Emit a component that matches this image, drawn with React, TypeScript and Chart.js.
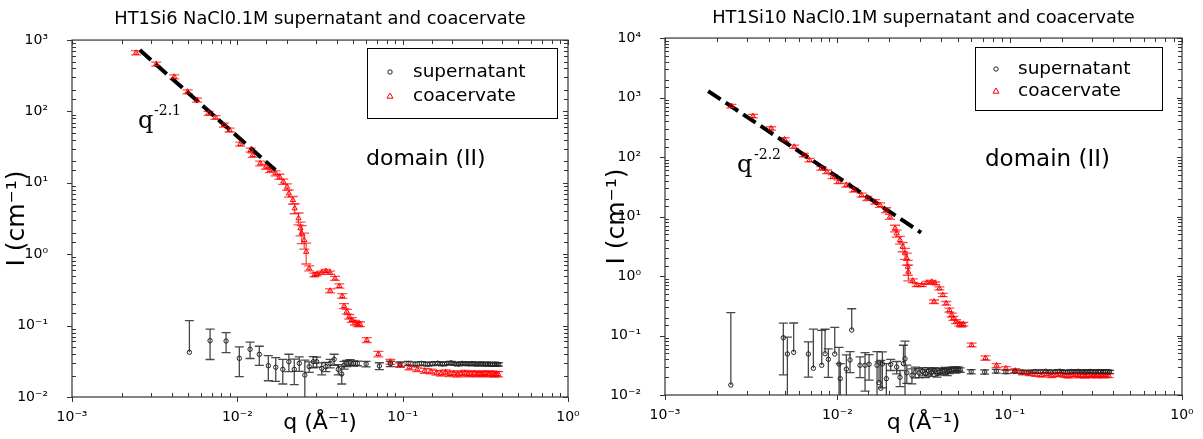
import React, { useEffect, useRef } from 'react';
import { Chart, registerables } from 'chart.js';

Chart.register(...registerables);

// ---------------- Left panel: HT1Si6 ----------------
const titleL = 'HT1Si6 NaCl0.1M supernatant and coacervate';
const supQL = [0.00513, 0.00684, 0.00855, 0.01028, 0.01194, 0.01358, 0.0154, 0.01707, 0.01883, 0.0205, 0.0221, 0.0237, 0.0256, 0.0272, 0.0288, 0.0302, 0.0324, 0.0343, 0.0364, 0.0385, 0.0408, 0.0428, 0.0442, 0.0459, 0.0481, 0.0504, 0.0532, 0.0601, 0.0723,
  0.0843, 0.0964, 0.108, 0.119, 0.130, 0.141, 0.152, 0.163, 0.174, 0.185, 0.196, 0.207, 0.218, 0.229, 0.240, 0.251, 0.262, 0.273, 0.284, 0.295, 0.306, 0.317, 0.328, 0.339, 0.350, 0.361, 0.372, 0.380];
const supIL = [0.0423, 0.0615, 0.0608, 0.0348, 0.0466, 0.0396, 0.0274, 0.0261, 0.0244, 0.0312, 0.0244, 0.0296, 0.0203, 0.0266, 0.0312, 0.0312, 0.0252, 0.0266, 0.0296, 0.0337, 0.0244, 0.0210, 0.0281, 0.0296, 0.0306, 0.0296, 0.0296, 0.0290, 0.0272,
  0.0292, 0.0287, 0.0295, 0.0290, 0.0296, 0.0289, 0.0293, 0.0298, 0.0290, 0.0295, 0.0301, 0.0292, 0.0289, 0.0296, 0.0293, 0.0290, 0.0294, 0.0291, 0.0289, 0.0292, 0.0290, 0.0288, 0.0291, 0.0289, 0.0287, 0.0290, 0.0288, 0.0286];
const supEL = [0.075, 0.028, 0.019, 0.0155, 0.012, 0.0118, 0.0105, 0.0095, 0.0092, 0.0085, 0.0095, 0.0068, 0.0125, 0.0045, 0.0055, 0.005, 0.0048, 0.004, 0.004, 0.006, 0.004, 0.0058, 0.0035, 0.003, 0.0028, 0.0025, 0.0022, 0.0025, 0.003,
  0.0025, 0.0022, 0.002, 0.0018, 0.0018, 0.0017, 0.0017, 0.0016, 0.0016, 0.0016, 0.0015, 0.0015, 0.0015, 0.0015, 0.0015, 0.0015, 0.0015, 0.0015, 0.0015, 0.0015, 0.0015, 0.0015, 0.0015, 0.0015, 0.0015, 0.0015, 0.0015, 0.0015];

const coaQL = [0.00244, 0.00323, 0.00415, 0.00500, 0.00571, 0.00670, 0.00738, 0.00830, 0.00898, 0.01042, 0.01205, 0.01239, 0.01375, 0.01492, 0.01573, 0.01702, 0.01798, 0.01896, 0.01999, 0.0205, 0.02168, 0.02223, 0.02344, 0.0241, 0.02453, 0.0254, 0.0261, 0.0272, 0.0292, 0.0302, 0.0324, 0.0343, 0.0364, 0.0390, 0.0414, 0.0364, 0.0431, 0.0442, 0.0459, 0.0475, 0.0492, 0.0515, 0.0535, 0.0552, 0.0607, 0.0713, 0.0843, 0.0964, 0.110, 0.1225, 0.136,
  0.148, 0.160, 0.171, 0.182, 0.193, 0.204, 0.215, 0.226, 0.237, 0.248, 0.259, 0.270, 0.281, 0.292, 0.303, 0.314, 0.325, 0.336, 0.347, 0.358, 0.369, 0.378];
const coaIL = [664, 461, 306, 189, 144.5, 94, 82.6, 64.5, 55, 34.9, 28.8, 24.5, 18.7, 16.8, 15.1, 13.6, 12.2, 10.4, 8.8, 7.1, 5.74, 4.39, 3.18, 2.31, 1.96, 1.58, 1.08, 0.635, 0.512, 0.528, 0.551, 0.582, 0.551, 0.459, 0.359, 0.308, 0.26, 0.188, 0.157, 0.133, 0.12, 0.110, 0.105, 0.105, 0.0628, 0.040, 0.0312, 0.0281, 0.0261, 0.0244, 0.0233,
  0.0228, 0.0219, 0.0214, 0.0222, 0.0210, 0.0216, 0.0207, 0.0213, 0.0218, 0.0209, 0.0212, 0.0215, 0.0208, 0.0213, 0.0210, 0.0216, 0.0209, 0.0212, 0.0214, 0.0207, 0.0211, 0.0209];
const coaEL = [45, 30, 20, 12, 9, 6, 5, 4, 3.5, 2.3, 1.9, 1.7, 1.4, 1.3, 1.2, 1.1, 1.0, 0.9, 0.9, 0.8, 0.7, 0.7, 0.6, 0.5, 0.55, 0.4, 0.35, 0.05, 0.03, 0.03, 0.03, 0.03, 0.03, 0.03, 0.025, 0.02, 0.02, 0.015, 0.012, 0.01, 0.009, 0.008, 0.008, 0.008, 0.005, 0.0035, 0.0025, 0.002, 0.002, 0.0018, 0.0018,
  0.0017, 0.0017, 0.0017, 0.0017, 0.0017, 0.0017, 0.0017, 0.0017, 0.0017, 0.0017, 0.0017, 0.0017, 0.0017, 0.0017, 0.0017, 0.0017, 0.0017, 0.0017, 0.0017, 0.0017, 0.0017, 0.0017];

const fitQL = [0.00257, 0.0170];
const fitIL = [724, 15.1];
const slopeLabelL = '-2.1';

// ---------------- Right panel: HT1Si10 ----------------
const titleR = 'HT1Si10 NaCl0.1M supernatant and coacervate';
const supQR = [0.00241, 0.00486, 0.00513, 0.00558, 0.00679, 0.00726, 0.00812, 0.00849, 0.00887, 0.00966, 0.01023, 0.0104, 0.01128, 0.01185, 0.01212, 0.01354, 0.01448, 0.01528, 0.0170, 0.01746, 0.01787, 0.01825, 0.01925, 0.0204, 0.0221, 0.0231, 0.0242, 0.0247, 0.0253, 0.0271, 0.0283,
  0.0298, 0.0312, 0.0325, 0.0338, 0.0352, 0.0366, 0.0379, 0.0393, 0.0406, 0.0420, 0.0434, 0.0447, 0.0461, 0.0475, 0.0488, 0.0502, 0.0516,
  0.0598, 0.0716, 0.0836, 0.0951, 0.107, 0.118, 0.129, 0.140, 0.151, 0.162, 0.173, 0.184, 0.195, 0.206, 0.217, 0.228, 0.239, 0.250, 0.261, 0.272, 0.283, 0.294, 0.305, 0.316, 0.327, 0.338, 0.349, 0.360, 0.371, 0.380];
const supIR = [0.0147, 0.0918, 0.0489, 0.0522, 0.0489, 0.0281, 0.0316, 0.0494, 0.0398, 0.0489, 0.0332, 0.0188, 0.0273, 0.0388, 0.1237, 0.0316, 0.0316, 0.0328, 0.0316, 0.0161, 0.0130, 0.0332, 0.0188, 0.0328, 0.0296, 0.0198, 0.0336, 0.0407, 0.0237, 0.0214, 0.0244,
  0.0236, 0.0249, 0.0231, 0.0252, 0.0241, 0.0258, 0.0229, 0.0246, 0.0253, 0.0262, 0.0240, 0.0255, 0.0268, 0.0272, 0.0259, 0.0276, 0.0263,
  0.0247, 0.0244, 0.0252, 0.0246, 0.0249, 0.0245, 0.0243, 0.0248, 0.0246, 0.0250, 0.0244, 0.0247, 0.0251, 0.0245, 0.0244, 0.0248, 0.0246, 0.0250, 0.0245, 0.0247, 0.0246, 0.0249, 0.0246, 0.0244, 0.0248, 0.0246, 0.0247, 0.0245, 0.0246, 0.0244];
const supER = [0.227, 0.07, 0.045, 0.11, 0.029, 0.1, 0.09, 0.078, 0.02, 0.088, 0.03, 0.015, 0.02, 0.015, 0.158, 0.012, 0.02, 0.015, 0.022, 0.02, 0.025, 0.02, 0.015, 0.007, 0.007, 0.006, 0.035, 0.04, 0.008, 0.006, 0.005,
  0.004, 0.004, 0.0035, 0.0035, 0.0035, 0.003, 0.003, 0.003, 0.003, 0.0028, 0.0028, 0.0025, 0.0025, 0.0025, 0.0025, 0.0022, 0.0022,
  0.002, 0.002, 0.0018, 0.0018, 0.0016, 0.0016, 0.0015, 0.0015, 0.0015, 0.0015, 0.0015, 0.0015, 0.0015, 0.0015, 0.0015, 0.0015, 0.0015, 0.0015, 0.0015, 0.0015, 0.0015, 0.0015, 0.0015, 0.0015, 0.0015, 0.0015, 0.0015, 0.0015, 0.0015, 0.0015];

const coaQR = [0.00243, 0.00324, 0.00413, 0.00494, 0.00562, 0.00639, 0.00690, 0.00807, 0.00871, 0.00940, 0.01016, 0.01127, 0.01247, 0.01382, 0.01493, 0.01655, 0.0177, 0.01917, 0.0202, 0.02163, 0.0221, 0.0231, 0.02398, 0.0247, 0.0253, 0.02562, 0.02582, 0.02741, 0.02889, 0.0309, 0.0330, 0.0353, 0.0369, 0.0391, 0.0409, 0.0364, 0.0428, 0.0447, 0.0461, 0.0471, 0.0489, 0.0511, 0.0525, 0.0538, 0.0601, 0.0724, 0.0840, 0.0951, 0.108, 0.1197,
  0.131, 0.142, 0.153, 0.164, 0.175, 0.186, 0.197, 0.208, 0.219, 0.230, 0.241, 0.252, 0.263, 0.274, 0.285, 0.296, 0.307, 0.318, 0.329, 0.340, 0.351, 0.362, 0.375];
const coaIR = [720, 489, 303, 198, 149, 108, 89, 64.6, 56.6, 46.7, 38.5, 33.8, 27.9, 23.0, 20.2, 17.7, 15.6, 12.85, 9.93, 6.34, 5.22, 4.03, 3.11, 2.41, 1.98, 1.43, 1.18, 0.834, 0.706, 0.706, 0.771, 0.802, 0.754, 0.621, 0.480, 0.370, 0.348, 0.268, 0.221, 0.195, 0.171, 0.156, 0.150, 0.155, 0.0692, 0.0419, 0.0313, 0.0281, 0.0256, 0.0237,
  0.0228, 0.0221, 0.0216, 0.0224, 0.0212, 0.0219, 0.0223, 0.0214, 0.0209, 0.0217, 0.0221, 0.0211, 0.0215, 0.0208, 0.0218, 0.0212, 0.0216, 0.0210, 0.0213, 0.0219, 0.0211, 0.0214, 0.0212];
const coaER = [50, 33, 20, 13, 9, 7, 6, 4.5, 4, 3.3, 2.8, 2.5, 2.1, 1.8, 1.6, 1.5, 1.3, 1.2, 1.0, 0.8, 0.7, 0.6, 0.55, 0.5, 0.45, 0.4, 0.35, 0.06, 0.04, 0.04, 0.04, 0.04, 0.04, 0.035, 0.03, 0.025, 0.025, 0.02, 0.017, 0.015, 0.013, 0.012, 0.011, 0.011, 0.005, 0.0035, 0.0025, 0.002, 0.002, 0.0018,
  0.0016, 0.0016, 0.0016, 0.0016, 0.0016, 0.0016, 0.0016, 0.0016, 0.0016, 0.0016, 0.0016, 0.0016, 0.0016, 0.0016, 0.0016, 0.0016, 0.0016, 0.0016, 0.0016, 0.0016, 0.0016, 0.0016, 0.0016];

const fitQR = [0.00178, 0.0306];
const fitIR = [1285, 5.38];
const slopeLabelR = '-2.2';

// ---------------- Axes text ----------------
const xTickValues = [0.001, 0.01, 0.1, 1];
const xTickLabels = ['10⁻³', '10⁻²', '10⁻¹', '10⁰'];
const yTickValues = [0.01, 0.1, 1, 10, 100, 1000, 10000];
const yTickLabels = ['10⁻²', '10⁻¹', '10⁰', '10¹', '10²', '10³', '10⁴'];
const xAxisTitle = 'q (Å⁻¹)';
const yAxisTitle = 'I (cm⁻¹)';
const legendLabels = ['supernatant', 'coacervate'];
const domainLabel = 'domain (II)';

const SANS = 'DejaVu Sans';

function labelFor(values: number[], labels: string[], v: number): string {
  for (let i = 0; i < values.length; i++) {
    if (Math.abs(Math.log10(v) - Math.log10(values[i])) < 1e-6) return labels[i];
  }
  return '';
}

function pts(q: number[], I: number[]) {
  return q.map((x, i) => ({ x, y: I[i] }));
}

type PanelCfg = {
  title: string;
  supQ: number[]; supI: number[]; supE: number[];
  coaQ: number[]; coaI: number[]; coaE: number[];
  fitQ: number[]; fitI: number[];
  slope: string;
  yMax: number;
  yAxisWidth: number;
  padRight: number;
  titlePadTop: number;
  titlePadBottom: number;
  xAxisHeight: number;
  legendBox: [number, number, number, number];
  legendMarkerX: number;
  legendTextX: number;
  legendRowY: [number, number];
  domainX: number; domainY: number; domainSize: number;
  qX: number; qY: number; supX: number; supY: number;
};

const errorBarsPlugin = {
  id: 'errorBars',
  beforeDatasetsDraw(chart: any) {
    const { ctx, chartArea, scales } = chart;
    const xs = scales.x, ys = scales.y;
    ctx.save();
    ctx.beginPath();
    ctx.rect(chartArea.left, chartArea.top, chartArea.right - chartArea.left, chartArea.bottom - chartArea.top);
    ctx.clip();
    chart.data.datasets.forEach((ds: any) => {
      if (!ds.errors) return;
      ctx.strokeStyle = ds.errorColor;
      ctx.lineWidth = ds.errorWidth;
      const cw = ds.capWidth / 2;
      ds.data.forEach((p: any, i: number) => {
        const e = ds.errors[i];
        const x = xs.getPixelForValue(p.x);
        const yc = ys.getPixelForValue(p.y);
        const yt = ys.getPixelForValue(p.y + e);
        const lo = p.y - e;
        const yb = lo > 0 ? ys.getPixelForValue(lo) : yc;
        ctx.beginPath();
        ctx.moveTo(x, yt);
        ctx.lineTo(x, yb);
        ctx.moveTo(x - cw, yt);
        ctx.lineTo(x + cw, yt);
        if (lo > 0) {
          ctx.moveTo(x - cw, yb);
          ctx.lineTo(x + cw, yb);
        }
        ctx.stroke();
      });
    });
    ctx.restore();
  },
};

function makeDecorPlugin(cfg: PanelCfg) {
  return {
    id: 'decor',
    afterDraw(chart: any) {
      const { ctx, chartArea, scales } = chart;
      const { left, right, top, bottom } = chartArea;
      ctx.save();
      // frame
      ctx.strokeStyle = '#333';
      ctx.lineWidth = 1.2;
      ctx.strokeRect(left, top, right - left, bottom - top);
      // ticks
      ctx.lineWidth = 1;
      ctx.beginPath();
      scales.x.ticks.forEach((t: any) => {
        const x = Math.round(scales.x.getPixelForValue(t.value)) + 0.5;
        const major = Math.abs(Math.log10(t.value) - Math.round(Math.log10(t.value))) < 1e-6;
        if (major) {
          ctx.moveTo(x, bottom); ctx.lineTo(x, bottom + 5);
          ctx.moveTo(x, top); ctx.lineTo(x, top + 5);
        } else {
          ctx.moveTo(x, bottom); ctx.lineTo(x, bottom - 4);
          ctx.moveTo(x, top); ctx.lineTo(x, top + 4);
        }
      });
      scales.y.ticks.forEach((t: any) => {
        const y = Math.round(scales.y.getPixelForValue(t.value)) + 0.5;
        const major = Math.abs(Math.log10(t.value) - Math.round(Math.log10(t.value))) < 1e-6;
        if (major) {
          ctx.moveTo(left, y); ctx.lineTo(left - 5, y);
          ctx.moveTo(right, y); ctx.lineTo(right - 5, y);
        } else {
          ctx.moveTo(left, y); ctx.lineTo(left + 4, y);
          ctx.moveTo(right, y); ctx.lineTo(right - 4, y);
        }
      });
      ctx.stroke();

      // legend
      const [bx, by, bw, bh] = cfg.legendBox;
      ctx.fillStyle = '#fff';
      ctx.fillRect(bx, by, bw, bh);
      ctx.strokeStyle = '#000';
      ctx.lineWidth = 1;
      ctx.strokeRect(bx + 0.5, by + 0.5, bw, bh);
      ctx.font = `18.5px "${SANS}"`;
      ctx.fillStyle = '#000';
      ctx.textBaseline = 'middle';
      ctx.textAlign = 'left';
      // supernatant marker
      ctx.strokeStyle = '#222';
      ctx.beginPath();
      ctx.arc(cfg.legendMarkerX, cfg.legendRowY[0], 2.2, 0, Math.PI * 2);
      ctx.stroke();
      ctx.fillText(legendLabels[0], cfg.legendTextX, cfg.legendRowY[0]);
      // coacervate marker
      ctx.strokeStyle = '#ff0000';
      const mx = cfg.legendMarkerX, my = cfg.legendRowY[1];
      ctx.beginPath();
      ctx.moveTo(mx, my - 3);
      ctx.lineTo(mx + 3, my + 2.2);
      ctx.lineTo(mx - 3, my + 2.2);
      ctx.closePath();
      ctx.stroke();
      ctx.fillText(legendLabels[1], cfg.legendTextX, cfg.legendRowY[1]);

      // domain label
      ctx.font = `${cfg.domainSize}px "${SANS}"`;
      ctx.fillText(domainLabel, cfg.domainX, cfg.domainY);

      // power-law label
      ctx.textBaseline = 'alphabetic';
      ctx.font = '24px "DejaVu Serif"';
      ctx.fillText('q', cfg.qX, cfg.qY);
      ctx.font = '14px "DejaVu Serif"';
      ctx.fillText(cfg.slope, cfg.supX, cfg.supY);
      ctx.restore();
    },
  };
}

function buildConfig(cfg: PanelCfg): any {
  return {
    type: 'scatter',
    data: {
      datasets: [
        {
          label: legendLabels[0],
          data: pts(cfg.supQ, cfg.supI),
          errors: cfg.supE,
          errorColor: 'rgba(40,40,40,0.85)',
          errorWidth: 1.3,
          capWidth: 9,
          pointStyle: 'circle',
          pointRadius: 2.2,
          borderColor: '#222',
          backgroundColor: 'rgba(0,0,0,0)',
          borderWidth: 1,
        },
        {
          label: legendLabels[1],
          data: pts(cfg.coaQ, cfg.coaI),
          errors: cfg.coaE,
          errorColor: 'rgba(255,0,0,0.7)',
          errorWidth: 1.3,
          capWidth: 10,
          pointStyle: 'triangle',
          pointRadius: 3,
          borderColor: '#ff0000',
          backgroundColor: 'rgba(0,0,0,0)',
          borderWidth: 1,
        },
        {
          label: 'fit',
          data: pts(cfg.fitQ, cfg.fitI),
          showLine: true,
          borderColor: '#000',
          borderWidth: 4,
          borderDash: [15, 6],
          pointRadius: 0,
          fill: false,
        },
      ],
    },
    options: {
      animation: false,
      responsive: false,
      maintainAspectRatio: false,
      devicePixelRatio: 1,
      layout: { padding: { left: 0, right: cfg.padRight, top: 0, bottom: 0 } },
      plugins: {
        legend: { display: false },
        tooltip: { enabled: false },
        title: {
          display: true,
          text: cfg.title,
          fullSize: false,
          color: '#000',
          font: { family: SANS, size: 17.8, weight: 'normal' },
          padding: { top: cfg.titlePadTop, bottom: cfg.titlePadBottom },
        },
      },
      scales: {
        x: {
          type: 'logarithmic',
          position: 'bottom',
          min: 0.001,
          max: 1,
          grid: { display: false },
          border: { display: false },
          ticks: {
            autoSkip: false,
            maxRotation: 0,
            color: '#000',
            padding: 4,
            font: { family: SANS, size: 14 },
            callback: (v: number) => labelFor(xTickValues, xTickLabels, v),
          },
          title: {
            display: true,
            text: xAxisTitle,
            color: '#000',
            font: { family: SANS, size: 22 },
            padding: { top: 0, bottom: 3 },
          },
          afterFit: (s: any) => { s.height = cfg.xAxisHeight; },
        },
        y: {
          type: 'logarithmic',
          position: 'left',
          min: 0.01,
          max: cfg.yMax,
          grid: { display: false },
          border: { display: false },
          ticks: {
            autoSkip: false,
            color: '#000',
            padding: 16,
            font: { family: SANS, size: 14 },
            callback: (v: number) => labelFor(yTickValues, yTickLabels, v),
          },
          title: {
            display: true,
            text: yAxisTitle,
            color: '#000',
            font: { family: SANS, size: 25 },
            padding: { top: 2, bottom: 0 },
          },
          afterFit: (s: any) => { s.width = cfg.yAxisWidth; },
        },
      },
    },
    plugins: [errorBarsPlugin, makeDecorPlugin(cfg)],
  };
}

const panelL: PanelCfg = {
  title: titleL,
  supQ: supQL, supI: supIL, supE: supEL,
  coaQ: coaQL, coaI: coaIL, coaE: coaEL,
  fitQ: fitQL, fitI: fitIL,
  slope: slopeLabelL,
  yMax: 1000,
  yAxisWidth: 72,
  padRight: 32,
  titlePadTop: 8.5,
  titlePadBottom: 10.2,
  xAxisHeight: 42,
  legendBox: [367, 48, 190, 70],
  legendMarkerX: 390,
  legendTextX: 413,
  legendRowY: [72, 96],
  domainX: 366, domainY: 159, domainSize: 22,
  qX: 138, qY: 128, supX: 154, supY: 115,
};

const panelR: PanelCfg = {
  title: titleR,
  supQ: supQR, supI: supIR, supE: supER,
  coaQ: coaQR, coaI: coaIR, coaE: coaER,
  fitQ: fitQR, fitI: fitIR,
  slope: slopeLabelR,
  yMax: 10000,
  yAxisWidth: 65,
  padRight: 21,
  titlePadTop: 7.5,
  titlePadBottom: 9.2,
  xAxisHeight: 44,
  legendBox: [375, 47, 187, 63],
  legendMarkerX: 396,
  legendTextX: 418,
  legendRowY: [69, 91],
  domainX: 385, domainY: 160, domainSize: 23,
  qX: 137, qY: 172, supX: 154, supY: 159,
};

function Panel({ cfg, left, width }: { cfg: PanelCfg; left: number; width: number }) {
  const ref = useRef<HTMLCanvasElement | null>(null);
  useEffect(() => {
    if (!ref.current) return;
    const chart = new Chart(ref.current, buildConfig(cfg));
    return () => chart.destroy();
  }, [cfg]);
  return (
    <div style={{ position: 'absolute', left, top: 0, width, height: 439 }}>
      <canvas ref={ref} width={width} height={439} style={{ display: 'block', width, height: 439 }} />
    </div>
  );
}

export default function App() {
  return (
    <div style={{ position: 'absolute', left: 0, top: 0, width: 1203, height: 439, background: '#fff', overflow: 'hidden' }}>
      <Panel cfg={panelL} left={0} width={600} />
      <Panel cfg={panelR} left={600} width={603} />
    </div>
  );
}
